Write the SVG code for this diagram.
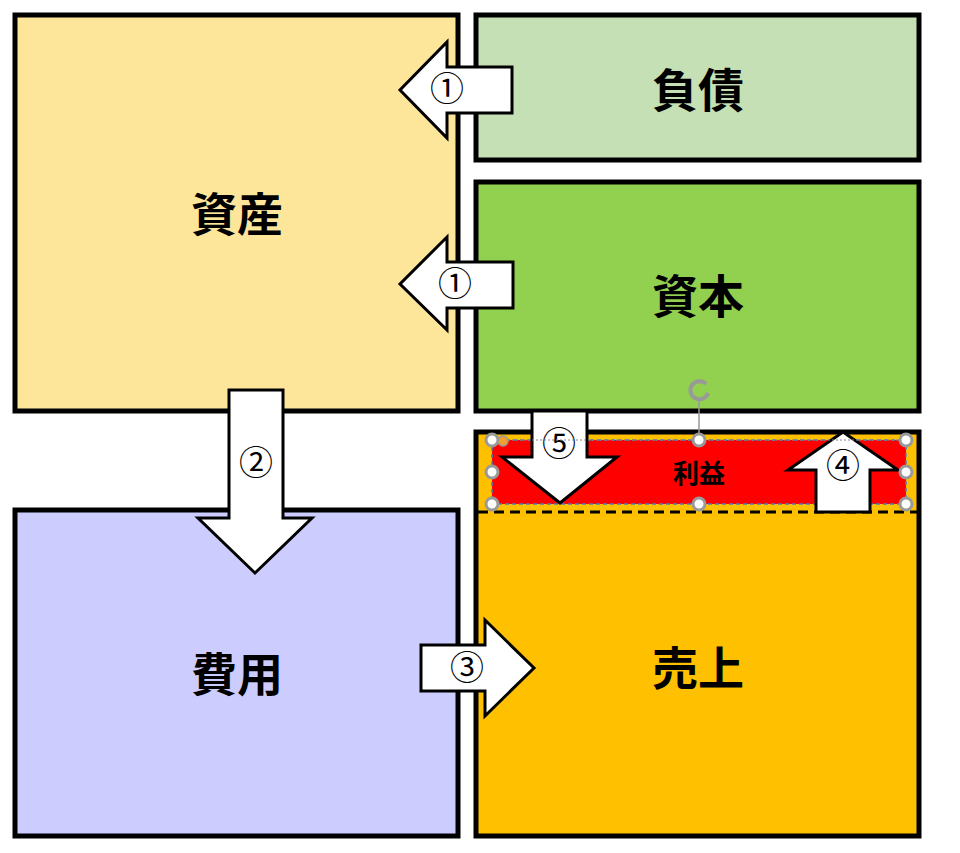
<svg xmlns="http://www.w3.org/2000/svg" width="960" height="853" viewBox="0 0 960 853">
<style>
.box{stroke:#000;stroke-width:5}
.arr{fill:#fff;stroke:#000;stroke-width:3;stroke-linejoin:miter}
.lbl{font-family:"Noto Sans CJK JP","Noto Sans CJK SC",sans-serif;font-weight:bold;font-size:46px;text-anchor:middle;fill:#000}
.num{font-family:"Noto Sans CJK JP","DejaVu Sans",sans-serif;font-size:34px;text-anchor:middle;fill:#000}
.h{fill:#fff;stroke:#999;stroke-width:3}
</style>
<rect width="960" height="853" fill="#fff"/>
<g id="shisan"><rect class="box" x="15" y="15" width="443" height="396" fill="#fde699"/><text class="lbl" x="237" y="231">資産</text></g>
<g id="fusai"><rect class="box" x="476" y="15" width="443" height="145" fill="#c5e0b4"/><text class="lbl" x="698" y="107">負債</text></g>
<g id="shihon"><rect class="box" x="476" y="182" width="443" height="229" fill="#92d050"/><text class="lbl" x="698" y="313">資本</text></g>
<g id="hiyou"><rect class="box" x="15" y="510" width="443" height="326" fill="#ccccff"/><text class="lbl" x="237" y="691">費用</text></g>
<g id="uriage"><rect class="box" x="476" y="432" width="443" height="404" fill="#ffc000"/>
<line x1="478" y1="512" x2="917" y2="512" stroke="#000" stroke-width="3" stroke-dasharray="10,6"/>
<text class="lbl" x="698" y="685">売上</text></g>
<g id="rieki"><rect x="492" y="440" width="414" height="64" fill="#f00" stroke="#4a7ebb" stroke-width="1.5" stroke-dasharray="4,3"/>
<text x="699" y="483" font-family="Noto Sans CJK JP,sans-serif" font-weight="bold" font-size="26" text-anchor="middle">利益</text></g>
<g id="connectors">
<path class="arr" d="M512,67 L447,67 L447,42 L400,90 L447,138 L447,113 L512,113 Z"/>
<text class="num" x="447" y="101">①</text>
<path class="arr" d="M513,262 L447,262 L447,237 L400,284 L447,330 L447,308 L513,308 Z"/>
<text class="num" x="455" y="296">①</text>
<path class="arr" d="M229,390 L283,390 L283,518 L312,518 L255,573 L198,518 L229,518 Z"/>
<text class="num" x="256" y="475">②</text>
<path class="arr" d="M421,645 L485,645 L485,620 L534,668 L485,716 L485,691 L421,691 Z"/>
<text class="num" x="467" y="680">③</text>
<path class="arr" d="M532,411 L587,411 L587,457 L617,457 L560,503 L502,457 L532,457 Z"/>
<text class="num" x="559" y="456">⑤</text>
<path class="arr" d="M816,512 L870,512 L870,470 L898,470 L843,432 L788,470 L816,470 Z"/>
<text class="num" x="843" y="478">④</text>
</g>
<g id="handles">
<line x1="492" y1="440" x2="906" y2="440" stroke="#888" stroke-width="1" stroke-dasharray="2,2"/>
<line x1="699" y1="398" x2="699" y2="440" stroke="#999" stroke-width="1.5"/>
<path d="M706,384 A9,9 0 1 0 708,393" fill="none" stroke="#999" stroke-width="4"/>
<circle class="h" cx="492" cy="440" r="6"/><circle class="h" cx="699" cy="440" r="6"/><circle class="h" cx="906" cy="440" r="6"/>
<circle class="h" cx="492" cy="472" r="6"/><circle class="h" cx="906" cy="472" r="6"/>
<circle class="h" cx="492" cy="504" r="6"/><circle class="h" cx="699" cy="504" r="6"/><circle class="h" cx="906" cy="504" r="6"/>
<circle cx="503" cy="441" r="5" fill="#f0a030" stroke="#999" stroke-width="1.5"/>
</g>
</svg>
